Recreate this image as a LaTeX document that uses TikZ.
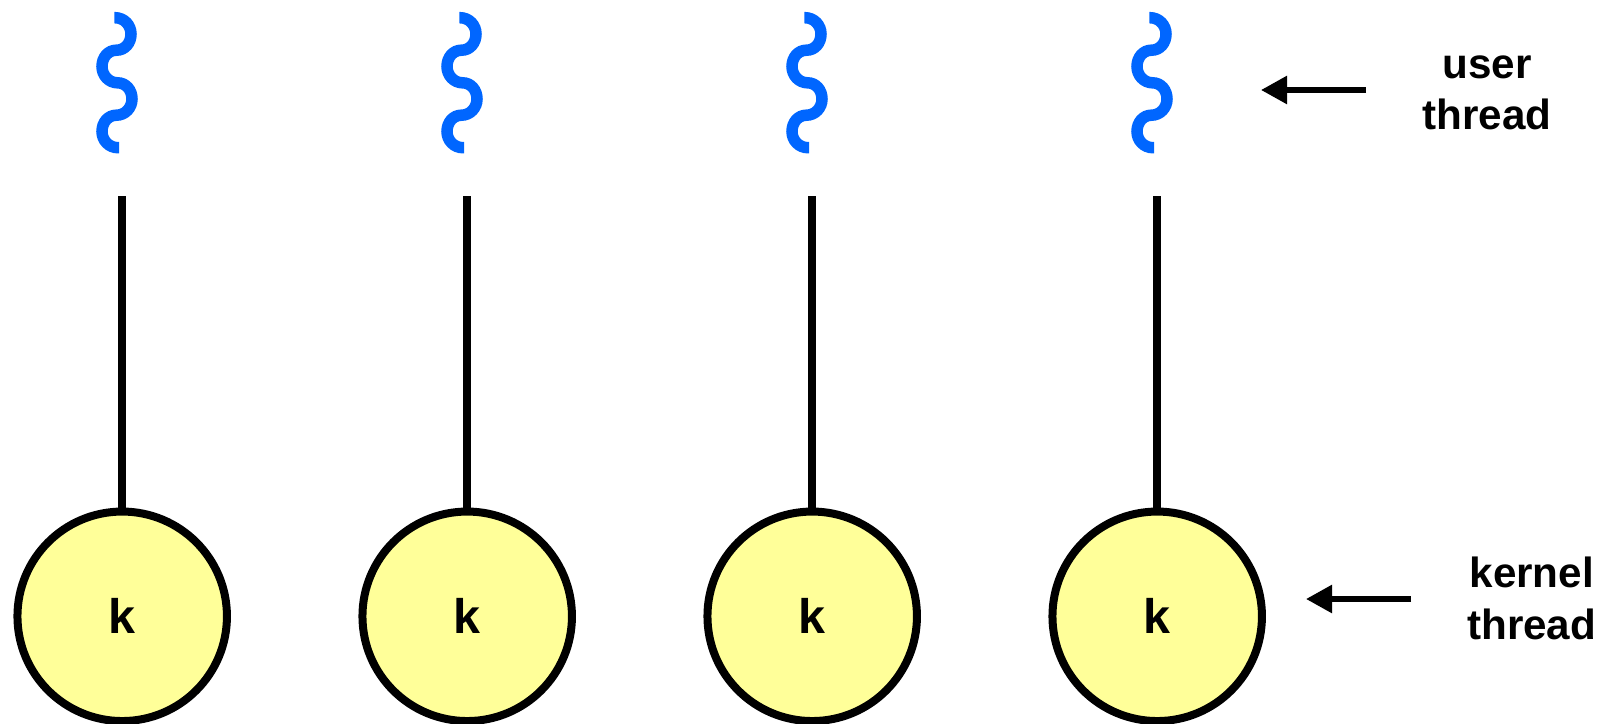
\documentclass[tikz,border=0pt]{standalone}
\usepackage{fontspec}
\setmainfont{Liberation Sans}
\usetikzlibrary{arrows.meta}
\definecolor{threadblue}{HTML}{0066FF}
\definecolor{kfill}{HTML}{FFFF99}
\tikzset{
  kcircle/.style={circle,draw=black,fill=kfill,line width=8bp,minimum size=209.5bp,inner sep=0pt,outer sep=0pt,font=\fontsize{48.5bp}{48.5bp}\selectfont\bfseries},
  conn/.style={draw=black,line width=8.2bp},
  note/.style={inner sep=0pt,align=center,font=\fontsize{42.2bp}{51.3bp}\selectfont\bfseries},
  pointer/.style={draw=black,line width=5.6bp,-{Triangle[length=26bp,width=27bp]}},
  squiggle/.pic={
    \draw[threadblue,line width=11.5bp]
      (114.3,17.7) -- (115,17.7) .. controls (124,17.7) and (131,25) .. (131,34)
      .. controls (131,43) and (125,50.2) .. (116.5,50.2)
      .. controls (108,50.2) and (102,57.5) .. (102,66.5)
      .. controls (102,75.5) and (109,82.8) .. (117.5,82.8)
      .. controls (126,82.8) and (132,90) .. (132,99)
      .. controls (132,108) and (125,115.2) .. (116.5,115.2)
      .. controls (108,115.2) and (102,122.5) .. (102,131.5)
      .. controls (102,140.5) and (109,147.7) .. (118,147.7) -- (119,147.7);
  }
}
\begin{document}
\begin{tikzpicture}[x=1bp,y=-1bp]
\useasboundingbox (0,0) rectangle (1601,724);
\foreach \i/\cx in {1/122.2,2/467.2,3/812.2,4/1157.2}{
  \pic at ({\cx-122.2},0) {squiggle};
  \coordinate (top\i) at (\cx,196);
  \node[kcircle] (k\i) at (\cx,616.3) {k};
  \draw[conn] (top\i) -- (k\i.north);
}
\node[note] (ulabel) at (1487,93) {user\\thread};
\node[note] (klabel) at (1531.7,598.5) {kernel\\thread};
\coordinate (utail) at (1366,90);
\coordinate (utip) at (1261,90);
\coordinate (ktail) at (1411,599);
\coordinate (ktip) at (1306,599);
\draw[pointer] (utail) -- (utip);
\draw[pointer] (ktail) -- (ktip);
\end{tikzpicture}
\end{document}
